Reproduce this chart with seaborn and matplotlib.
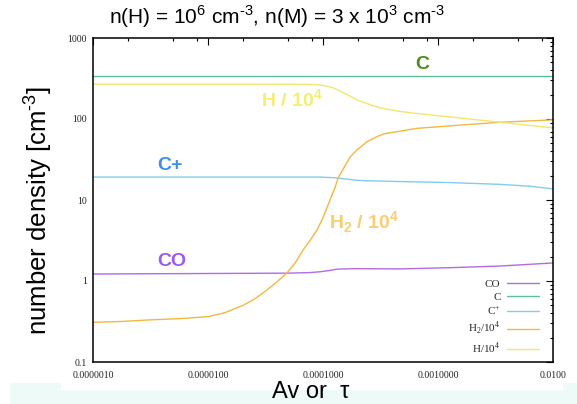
import matplotlib
matplotlib.use("Agg")
import matplotlib.pyplot as plt
from matplotlib.patches import Rectangle
from matplotlib.ticker import FixedLocator, FixedFormatter, LogLocator, NullFormatter
import numpy as np
import pandas as pd
import seaborn as sns

# ---- data (number densities vs. Av / tau) ----
series_names = ["CO", "C", "C+", "H2", "H"]
legend_labels = ["CO", "C", r"C$^{\mathregular{+}}$",
                 r"H$_{\mathregular{2}}$/10$^{\mathregular{4}}$",
                 r"H/10$^{\mathregular{4}}$"]

co_x = [1.0e-6, 4.86e-5, 7.71e-5, 9.42e-5, 1.15e-4, 1.32e-4, 1.55e-4, 1.82e-4,
        4.67e-4, 1.27e-3, 3.46e-3, 1.0e-2]
co_y = [1.22, 1.25, 1.27, 1.30, 1.35, 1.40, 1.41, 1.42,
        1.41, 1.46, 1.53, 1.67]

c_x = [1.0e-6, 1.0e-4, 1.0e-2]
c_y = [340, 340, 340]

cp_x = [1.0e-6, 9.42e-5, 1.27e-4, 1.55e-4, 1.90e-4, 2.32e-4, 4.67e-4, 1.27e-3,
        3.46e-3, 6.31e-3, 1.0e-2]
cp_y = [19.2, 19.2, 18.8, 18.2, 17.6, 17.3, 16.9, 16.4,
        15.6, 14.8, 13.7]

h2_x = [1.0e-6, 1.72e-6, 3.13e-6, 5.71e-6, 1.0e-5, 1.41e-5, 2.02e-5, 2.56e-5,
        3.26e-5, 3.98e-5, 4.86e-5, 5.71e-5, 6.70e-5, 7.71e-5, 8.87e-5, 1.0e-4,
        1.15e-4, 1.27e-4, 1.35e-4, 1.55e-4, 1.72e-4, 1.98e-4, 2.42e-4, 2.83e-4,
        3.33e-4, 6.57e-4, 1.27e-3, 3.46e-3, 1.0e-2]
h2_y = [0.309, 0.316, 0.331, 0.343, 0.363, 0.407, 0.501, 0.603,
        0.776, 0.977, 1.26, 1.66, 2.40, 3.16, 4.27, 6.03,
        10.0, 14.1, 18.6, 26.3, 33.9, 41.7, 52.5, 58.9,
        65.3, 76.7, 82.2, 91.2, 97.7]

h_x = [1.0e-6, 6.31e-5, 8.87e-5, 1.04e-4, 1.22e-4, 1.43e-4, 1.72e-4, 2.02e-4,
       2.42e-4, 2.83e-4, 3.33e-4, 4.67e-4, 6.57e-4, 1.27e-3, 3.46e-3, 1.0e-2]
h_y = [269, 269, 266, 257, 243, 219, 191, 170,
       155, 143, 135, 124, 117, 106, 91.2, 77.6]

x_major = [1e-6, 1e-5, 1e-4, 1e-3, 1e-2]
x_major_labels = ["0.0000010", "0.0000100", "0.0001000", "0.0010000", "0.0100"]
y_major = [0.1, 1, 10, 100, 1000]
y_major_labels = ["0.1", "1", "10", "100", "1000"]

colors = {"CO": "#b36be3", "C": "#5cbf9b", "C+": "#80cdee",
          "H2": "#f3b83f", "H": "#f6e56c"}

frames = []
for name, xs, ys in [("CO", co_x, co_y), ("C", c_x, c_y), ("C+", cp_x, cp_y),
                     ("H2", h2_x, h2_y), ("H", h_x, h_y)]:
    frames.append(pd.DataFrame({"x": xs, "y": ys, "series": name}))
df = pd.concat(frames, ignore_index=True)

sns.set_style("white")
plt.rcParams["font.family"] = ["Liberation Sans", "DejaVu Sans"]

W, H = 577, 404
fig = plt.figure(figsize=(W / 100, H / 100), dpi=100)

# light band behind the axis caption
fig.patches.append(Rectangle((10 / W, 0), 1 - 10 / W, 21 / H, transform=fig.transFigure,
                             facecolor="#eefaf8", edgecolor="none", zorder=0))
fig.patches.append(Rectangle((61 / W, 14 / H), (563 - 61) / W, 7 / H, transform=fig.transFigure,
                             facecolor="white", edgecolor="none", zorder=0))

ax = fig.add_axes([93 / W, 1 - 362 / H, (553 - 93) / W, (362 - 38) / H])
ax.set_xscale("log")
ax.set_yscale("log")

sns.lineplot(data=df, x="x", y="y", hue="series", hue_order=series_names,
             palette=colors, estimator=None, sort=False, legend=False,
             linewidth=1.0, ax=ax)

ax.set_xlim(1e-6, 1e-2)
ax.set_ylim(0.1, 1000)
ax.set_xlabel("")
ax.set_ylabel("")

# ticks
ax.xaxis.set_major_locator(FixedLocator(x_major))
ax.xaxis.set_major_formatter(FixedFormatter(x_major_labels))
ax.xaxis.set_minor_locator(LogLocator(base=10, subs=(2, 5, 8)))
ax.xaxis.set_minor_formatter(NullFormatter())
ax.yaxis.set_major_locator(FixedLocator(y_major))
ax.yaxis.set_major_formatter(FixedFormatter(y_major_labels))
ax.yaxis.set_minor_locator(LogLocator(base=10, subs=np.arange(2, 10)))
ax.yaxis.set_minor_formatter(NullFormatter())

ax.tick_params(which="both", direction="in", top=True, right=True,
               color="black", width=0.8)
ax.tick_params(which="major", length=5)
ax.tick_params(which="minor", length=2.5)
ax.tick_params(axis="x", which="major", pad=6.5)
ax.tick_params(axis="y", which="major", pad=4.5)
for lab in ax.get_xticklabels() + ax.get_yticklabels():
    lab.set_fontfamily("Liberation Serif")
    lab.set_fontsize(7)
    lab.set_color("#222222")

for sp in ax.spines.values():
    sp.set_color("black")
    sp.set_linewidth(1.1)

# legend (text first, sample line after)
handles = [plt.Line2D([], [], color=colors[n], lw=1.0) for n in series_names]
leg = ax.legend(handles, legend_labels, loc="lower right",
                bbox_to_anchor=(0.991, -0.012), frameon=False, markerfirst=False,
                prop={"family": "Liberation Serif", "size": 8},
                handlelength=2.9, handletextpad=0.55, labelspacing=0.28)

# curve captions
cap = dict(transform=ax.transAxes, ha="center", va="center",
           fontsize=14, fontweight="bold")
ax.text(0.715, 0.917, "C", color="#4e8c1c", **cap)
ax.text(0.433, 0.809, r"H / 10$^{\mathregular{4}}$", color="#f5ee72", **cap)
ax.text(0.167, 0.608, "C+", color="#3d8fe8", **cap)
ax.text(0.589, 0.432, r"H$_{\mathregular{2}}$ / 10$^{\mathregular{4}}$", color="#f9cd72", **cap)
ax.text(0.172, 0.309, "CO", color="#9b5af0", **cap)

# figure labels
fig.text(277 / W, 1 - 17 / H,
         r"n(H) = 10$^{\mathregular{6}}$ cm$^{\mathregular{‐3}}$, "
         r"n(M) = 3 x 10$^{\mathregular{3}}$ cm$^{\mathregular{‐3}}$",
         ha="center", va="center", fontsize=15, color="black")
fig.text(38 / W, 1 - 210 / H, r"number density [cm$^{\mathregular{‐3}}$]",
         rotation=90, ha="center", va="center", fontsize=18.5, color="black")
fig.text(311 / W, 1 - 392 / H, "Av or  τ", ha="center", va="center",
         fontsize=17, color="black")

fig.savefig("out.png", dpi=100)
